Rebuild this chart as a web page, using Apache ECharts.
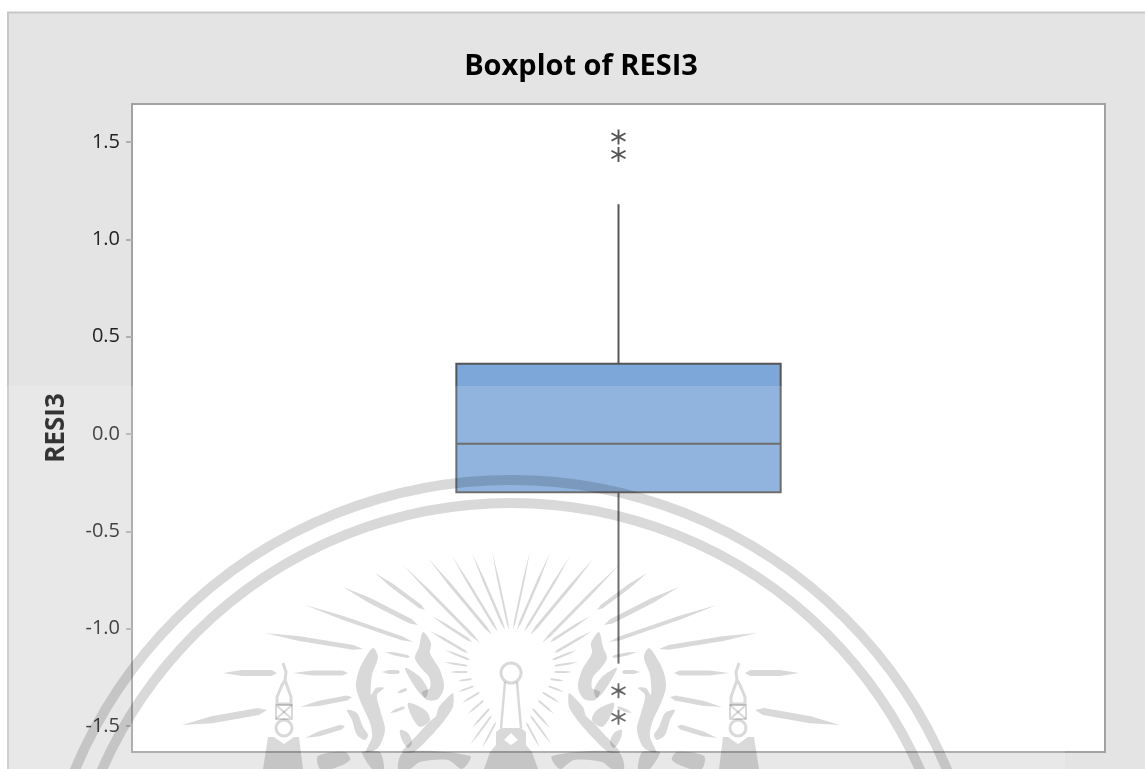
<!DOCTYPE html>
<html>
<head>
<meta charset="utf-8">
<title>Boxplot of RESI3</title>
<script src="https://cdn.jsdelivr.net/npm/echarts@6/dist/echarts.min.js"></script>
<style>
  html, body { margin: 0; padding: 0; background: #fff; }
  #chartBox { width: 1145px; height: 769px; }
</style>
</head>
<body>
<div id="chartBox"></div>
<script>
// values
var categories = ["RESI3"];
var lowWhisker = [-1.18];
var q1 = [-0.30];
var median = [-0.05];
var q3 = [0.36];
var highWhisker = [1.18];
var outliers = [1.52, 1.43, -1.325, -1.46];
var yTicks = [-1.5, -1.0, -0.5, 0, 0.5, 1.0, 1.5];

var boxData = categories.map(function (c, i) {
  return [i, lowWhisker[i], q1[i], median[i], q3[i], highWhisker[i]];
});
var outlierData = outliers.map(function (v) {
  return [categories[0], v];
});

// the six armed star used for outliers
var starPath = "path://M5.3 0h1.4v4.8l4.1-2.4.7 1.2L7.4 6l4.1 2.4-.7 1.2-4.1-2.4V12H5.3V7.2L1.2 9.6.5 8.4 4.6 6 .5 3.6l.7-1.2 4.1 2.4z";

// ---- watermark seal laid over the picture, not data ----
var markColor = "rgba(0,0,0,0.15)";
var seal = [];
var midX = 511;

function mirror(points) {
  return points.map(function (p) { return [2 * midX - p[0], p[1]]; });
}
function fillBoth(points, smooth) {
  [points, mirror(points)].forEach(function (pts) {
    seal.push({
      type: "polygon", z: 100, silent: true,
      shape: { points: pts, smooth: smooth || 0 },
      style: { fill: markColor }
    });
  });
}
function strokeBoth(points, w) {
  [points, mirror(points)].forEach(function (pts) {
    seal.push({
      type: "polyline", z: 100, silent: true,
      shape: { points: pts },
      style: { fill: null, stroke: markColor, lineWidth: w, lineJoin: "round" }
    });
  });
}
function ringBoth(cx, cy, r, w) {
  [cx, 2 * midX - cx].forEach(function (x) {
    seal.push({
      type: "circle", z: 100, silent: true,
      shape: { cx: x, cy: cy, r: r },
      style: { fill: "transparent", stroke: markColor, lineWidth: w }
    });
  });
}
// spindle shaped ray
function ray(x1, y1, x2, y2, w) {
  var dx = x2 - x1, dy = y2 - y1;
  var len = Math.sqrt(dx * dx + dy * dy);
  var nx = -dy / len * w / 2, ny = dx / len * w / 2;
  fillBoth([
    [x1, y1],
    [x1 + dx * 0.35 + nx, y1 + dy * 0.35 + ny],
    [x2 - dx * 0.1 + nx, y2 - dy * 0.1 + ny],
    [x2, y2],
    [x2 - dx * 0.1 - nx, y2 - dy * 0.1 - ny],
    [x1 + dx * 0.35 - nx, y1 + dy * 0.35 - ny]
  ]);
}

// two big arcs
[[511, 953, 473, 10], [511, 950, 447, 10]].forEach(function (r) {
  seal.push({
    type: "circle", z: 100, silent: true,
    shape: { cx: r[0], cy: r[1], r: r[2] },
    style: { fill: "transparent", stroke: markColor, lineWidth: r[3] }
  });
});

// sun rays
[
  [223, 673, 277, 673, 6], [293, 673, 348, 673, 5], [382, 672, 400, 672, 4],
  [265, 633, 363, 649, 5], [385, 652, 410, 657, 3],
  [305, 605, 413, 642, 4], [343, 587, 418, 625, 5], [375, 573, 425, 610, 4],
  [403, 565, 480, 643, 3], [428, 558, 492, 635, 3], [452, 556, 498, 632, 2.5],
  [472, 553, 505, 630, 2.5], [492, 551, 509, 630, 2],
  [182, 725, 267, 710, 7], [300, 707, 352, 697, 5], [305, 738, 345, 726, 5],
  [390, 713, 405, 707, 3], [397, 693, 407, 689, 3],
  [432, 616, 472, 642, 2.5], [430, 631, 468, 653, 2.5], [445, 650, 470, 660, 2],
  [444, 662, 468, 666, 2], [450, 672, 468, 672, 2], [458, 681, 472, 679, 2],
  [458, 692, 474, 686, 2], [462, 703, 480, 692, 2], [468, 714, 484, 700, 2],
  [472, 728, 490, 708, 2], [470, 745, 492, 715, 2], [482, 748, 496, 722, 2]
].forEach(function (r) {
  ray(r[0], r[1], r[2], r[3], r[4]);
});

// flames, left side then mirrored
fillBoth([[423, 632], [431, 643], [430, 653], [440, 670], [444, 687], [438, 699], [427, 700], [422, 692],
  [430, 688], [429, 677], [421, 668], [415, 658], [419, 647]], 0.3);
fillBoth([[405, 668], [420, 677], [428, 690], [425, 698], [415, 687]], 0.3);
fillBoth([[453, 693], [453, 707], [444, 721], [431, 736], [414, 752], [402, 752], [419, 733], [429, 722],
  [436, 716], [439, 707]], 0.2);
fillBoth([[408, 703], [425, 710], [430, 720], [420, 727], [412, 717]], 0.3);
fillBoth([[400, 730], [408, 733], [412, 743], [408, 748], [402, 740]], 0.3);
fillBoth([[373, 648], [378, 657], [372, 675], [371, 695], [376, 688], [384, 688], [377, 695], [381, 713],
  [385, 730], [378, 748], [366, 752], [372, 737], [370, 723], [361, 703], [356, 687], [358, 673], [364, 660]], 0.3);
fillBoth([[347, 710], [357, 713], [363, 727], [368, 735], [365, 740], [357, 735], [352, 720]], 0.3);
// bits of the flames running on below the frame
fillBoth([[362, 752], [380, 752], [384, 769], [372, 769]], 0.2);
fillBoth([[404, 752], [470, 756], [462, 769], [448, 760], [420, 762], [410, 769], [398, 769]], 0.3);
fillBoth([[318, 756], [345, 752], [350, 760], [332, 769], [320, 769]], 0.3);

// towers
strokeBoth([[283, 663], [286, 672], [285, 680], [291, 697], [291, 704], [277, 704], [277, 697], [282, 685], [285, 680]], 3);
strokeBoth([[276, 705], [292, 705], [292, 719], [276, 719], [276, 705], [292, 719]], 2);
strokeBoth([[292, 705], [276, 719]], 2);
ringBoth(284, 728, 8, 3);
fillBoth([[268, 737], [274, 737], [284, 744], [294, 737], [299, 737], [303, 769], [263, 769]]);

// lamp and crown in the middle
seal.push({
  type: "circle", z: 100, silent: true,
  shape: { cx: midX, cy: 673, r: 10 },
  style: { fill: "transparent", stroke: markColor, lineWidth: 3 }
});
strokeBoth([[505, 682], [501, 728]], 2.5);
fillBoth([[501, 728], [511, 728], [511, 733], [504, 740], [511, 745], [511, 769], [484, 769], [490, 752], [496, 745], [496, 732]]);

// lighter band that the seal image lays over the lower part
var overlay = {
  type: "rect",
  z: 99,
  silent: true,
  shape: { x: 0, y: 386, width: 1065, height: 383 },
  style: { fill: "rgba(255,255,255,0.15)" }
};

var panel = {
  type: "rect",
  z: -10,
  silent: true,
  shape: { x: 8, y: 12.5, width: 1140, height: 760 },
  style: { fill: "#e4e4e4", stroke: "#c8c8c8", lineWidth: 2 }
};

var chartBox = echarts.init(document.getElementById("chartBox"));
chartBox.setOption({
  animation: false,
  backgroundColor: "#fff",
  textStyle: { fontFamily: "'Open Sans', 'Noto Sans', sans-serif" },
  title: {
    text: "Boxplot of RESI3",
    left: 576,
    top: 47,
    textAlign: "center",
    textStyle: { fontSize: 29, fontWeight: "bold", color: "#000", fontFamily: "'Open Sans', sans-serif" }
  },
  graphic: { elements: [panel, overlay].concat(seal) },
  grid: {
    show: true,
    left: 132,
    right: 40,
    top: 104,
    height: 648,
    backgroundColor: "#fff",
    borderColor: "#a2a2a2",
    borderWidth: 2
  },
  xAxis: {
    type: "category",
    data: categories,
    axisLabel: { show: false },
    axisTick: { show: false },
    axisLine: { show: false },
    splitLine: { show: false }
  },
  yAxis: {
    type: "value",
    min: -1.634,
    max: 1.695,
    name: "RESI3",
    nameLocation: "middle",
    nameGap: 62,
    nameTextStyle: { fontSize: 26, fontWeight: "bold", color: "#111", fontFamily: "'Open Sans', sans-serif" },
    axisLine: { show: false },
    splitLine: { show: false },
    axisTick: {
      show: true,
      customValues: yTicks,
      length: 6,
      lineStyle: { color: "#b0b0b0", width: 2 }
    },
    axisLabel: {
      customValues: yTicks,
      margin: 12,
      fontSize: 20,
      color: "#222",
      padding: [2, 0, 0, 0],
      formatter: function (v) { return v.toFixed(1); }
    }
  },
  series: [
    {
      type: "custom",
      name: "RESI3",
      data: boxData,
      z: 5,
      encode: { x: 0, y: [1, 2, 3, 4, 5] },
      renderItem: function (params, api) {
        var cat = api.value(0);
        var low = api.coord([cat, api.value(1)]);
        var bottom = api.coord([cat, api.value(2)]);
        var mid = api.coord([cat, api.value(3)]);
        var top = api.coord([cat, api.value(4)]);
        var high = api.coord([cat, api.value(5)]);
        var w = api.size([1, 0])[0] / 3;
        var lineStyle = { stroke: "#555", lineWidth: 2, fill: null };
        return {
          type: "group",
          children: [
            { type: "line", shape: { x1: high[0], y1: high[1], x2: top[0], y2: top[1] }, style: lineStyle },
            { type: "line", shape: { x1: low[0], y1: low[1], x2: bottom[0], y2: bottom[1] }, style: lineStyle },
            {
              type: "rect",
              shape: { x: top[0] - w / 2, y: top[1], width: w, height: bottom[1] - top[1] },
              style: { fill: "#7da7d9", stroke: "#555", lineWidth: 2 }
            },
            { type: "line", shape: { x1: mid[0] - w / 2, y1: mid[1], x2: mid[0] + w / 2, y2: mid[1] }, style: lineStyle }
          ]
        };
      }
    },
    {
      type: "scatter",
      name: "Outliers",
      data: outlierData,
      symbol: starPath,
      symbolSize: 15,
      symbolOffset: [0, -1],
      z: 6,
      itemStyle: { color: "#555", opacity: 1 }
    }
  ]
});
</script>
</body>
</html>
